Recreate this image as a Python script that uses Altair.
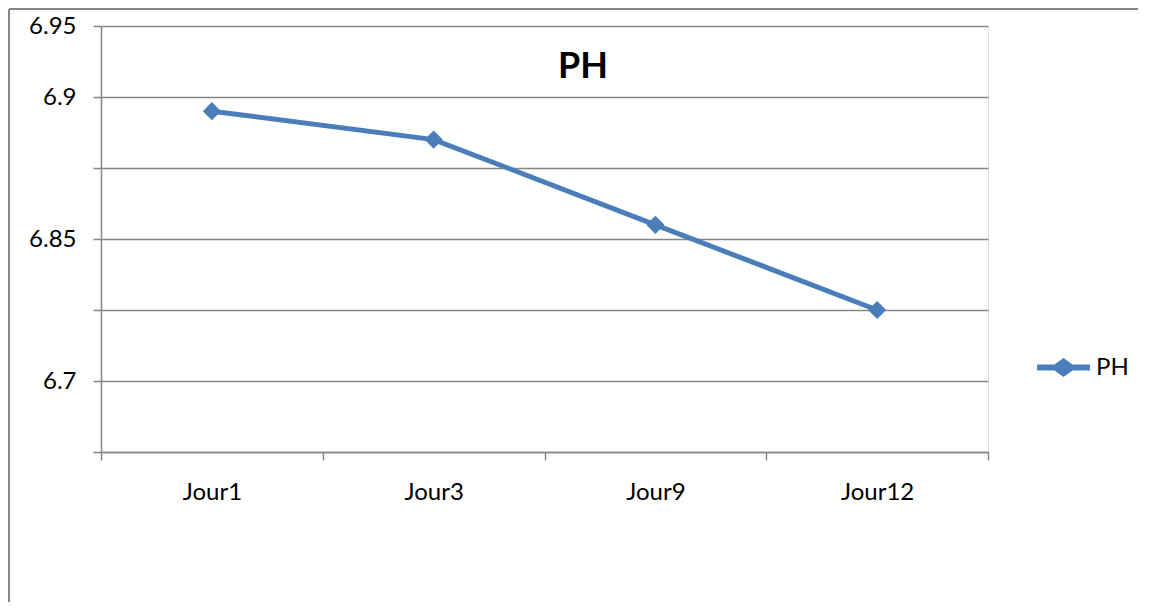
import altair as alt
import pandas as pd

days = ["Jour1", "Jour3", "Jour9", "Jour12"]
ph = [6.89, 6.87, 6.81, 6.75]
series = ["PH", "PH", "PH", "PH"]
title_text = "PH"

df = pd.DataFrame({"jour": days, "ph": ph, "serie": series})

BLUE = "#4a7ebb"
GRAY = "#868686"
FONT = "Lato"

legend_path = ("M-1,-0.11 L-0.34,-0.11 L0,-0.36 L0.34,-0.11 L1,-0.11 "
               "L1,0.11 L0.34,0.11 L0,0.36 L-0.34,0.11 L-1,0.11 Z")

x = alt.X("jour:N", sort=days, title=None,
          scale=alt.Scale(paddingInner=0, paddingOuter=0),
          axis=alt.Axis(labelAngle=0, tickBand="extent", grid=False,
                        gridOpacity=0, gridColor="white",
                        domainColor=GRAY, domainWidth=1.5, tickColor=GRAY,
                        tickWidth=1.5, tickSize=8, labelPadding=20,
                        labelFont=FONT, labelFontSize=24, labelColor="black"))

y = alt.Y("ph:Q", title=None,
          scale=alt.Scale(domain=[6.65, 6.95], nice=False, zero=False),
          axis=alt.Axis(values=[6.65, 6.70, 6.75, 6.80, 6.85, 6.90, 6.95],
                        labelExpr="round(datum.value*100)==695 ? '6.95' : round(datum.value*100)==690 ? '6.9' : round(datum.value*100)==680 ? '6.85' : round(datum.value*100)==670 ? '6.7' : ''",
                        grid=True, gridColor=GRAY, gridWidth=1.5,
                        domainColor=GRAY, domainWidth=1.5, tickColor=GRAY,
                        tickWidth=1.5, tickSize=8, labelPadding=17,
                        labelFont=FONT, labelFontSize=24, labelColor="black"))

color = alt.Color("serie:N", title=None,
                  scale=alt.Scale(range=[BLUE]),
                  legend=alt.Legend(orient="none", legendX=936, legendY=315,
                                    symbolType=legend_path, symbolSize=2800,
                                    symbolFillColor=BLUE, symbolStrokeWidth=0,
                                    labelFont=FONT, labelFontSize=24,
                                    labelColor="black", labelOffset=6))

line = alt.Chart(df).mark_line(strokeWidth=5).encode(x=x, y=y, color=color)
pts = alt.Chart(df).mark_point(shape="diamond", filled=True, size=330,
                               opacity=1, strokeWidth=0).encode(
    x=x, y=y, color=alt.Color("serie:N", scale=alt.Scale(range=[BLUE]), legend=None))

border_top = alt.Chart(df).mark_rule(stroke=GRAY, strokeWidth=2).encode(
    x=alt.value(-92), x2=alt.value(1100), y=alt.value(-17))
border_left = alt.Chart(df).mark_rule(stroke=GRAY, strokeWidth=2).encode(
    x=alt.value(-92), y=alt.value(-17), y2=alt.value(700))

title = alt.Chart(pd.DataFrame({"t": [title_text]})).mark_text(
    font=FONT, fontSize=36, fontWeight="bold", color="black",
    align="center", baseline="middle").encode(
    text="t:N", x=alt.value(482), y=alt.value(41))

chart = alt.layer(border_top, border_left, line, pts, title).properties(
    width=887, height=426,
    autosize=alt.AutoSizeParams(type="none"),
    padding={"left": 93, "top": 18, "right": 150, "bottom": 150},
).configure_view(strokeOpacity=0, strokeWidth=0).configure(background="white")

chart.save("out.html", embed_options={"renderer": "svg", "actions": False})
